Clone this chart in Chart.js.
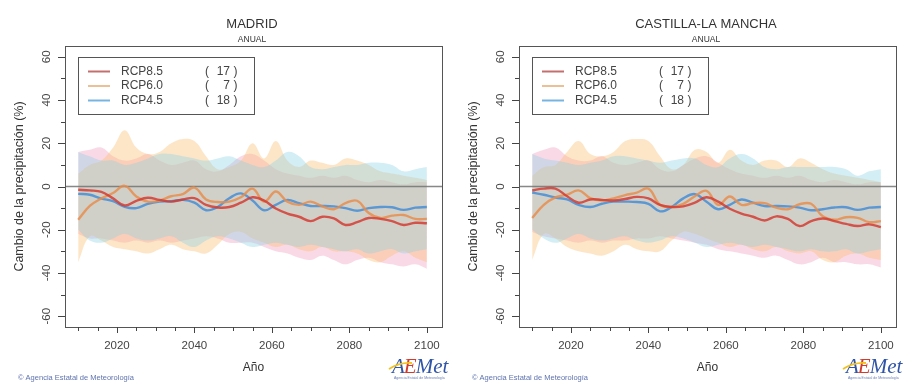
<!DOCTYPE html>
<html>
<head>
<meta charset="utf-8">
<script src="https://cdn.jsdelivr.net/npm/chart.js@4"></script>
<style>
  html, body { margin: 0; padding: 0; background: #fff; }
  #wrap { position: relative; width: 904px; height: 382px; overflow: hidden; }
  .panel { position: absolute; top: 0; height: 382px; }
</style>
</head>
<body>
<div id="wrap">
  <div class="panel" style="left:0;width:454px"><canvas id="c-madrid"></canvas></div>
  <div class="panel" style="left:454px;width:450px"><canvas id="c-clm"></canvas></div>
</div>
<script>
// Cambio de la precipitación anual (%) - proyecciones RCP, AEMet

const years = [2010, 2013, 2016, 2019, 2022, 2025, 2028, 2031, 2034, 2037, 2040,
  2043, 2046, 2049, 2052, 2055, 2058, 2061, 2064, 2067, 2070, 2073, 2076, 2079,
  2082, 2085, 2088, 2091, 2094, 2097, 2100];

const scenarios = ['RCP8.5', 'RCP6.0', 'RCP4.5'];
const modelCounts = [17, 7, 18];

const yTicks = [-60, -40, -20, 0, 20, 40, 60];
const yMinorTicks = [-50, -30, -10, 10, 30, 50];
const xTicks = [2020, 2040, 2060, 2080, 2100];
const xMinorTicks = [2010, 2015, 2025, 2030, 2035, 2045, 2050, 2055, 2065, 2070, 2075, 2085, 2090, 2095];

// --- MADRID ---
const madridRcp85 = [-1.5, -1.8, -2.5, -5.5, -8.8, -6.6, -5.2, -6.2, -7, -6, -5.4, -8.5, -9.7, -9.5, -7.5, -5, -6.5, -10.2, -12.5, -14, -16, -14, -14.8, -17.8, -16.5, -14.6, -15, -16, -17.8, -16.8, -17];
const madridRcp60 = [-15.4, -9, -5.5, -3, 0.3, -4.6, -7, -6.5, -4.5, -3.5, -0.5, -6, -7.2, -7, -5, -1, -7, -2.3, -7, -8.5, -7, -9.2, -10.5, -7.7, -6.6, -12.3, -14.6, -13.5, -13.2, -15, -15];
const madridRcp45 = [-3.4, -3.8, -5.6, -6.8, -9.4, -10, -8, -7, -6.8, -6.2, -7.5, -11, -9.5, -5.4, -3.2, -6.5, -11, -8.5, -6.2, -7.7, -9, -9, -9.2, -10, -11.2, -10, -9.5, -9.6, -10.8, -9.8, -9.5];
const madridRcp85Hi = [16, 17, 18, 14, 12, 13, 15, 12, 10, 11, 12, 8, 7, 10, 14, 15, 12, 8, 6, 5, 4, 5, 4, 5, 3, 2, 3, 2, 1, 2, 2];
const madridRcp85Lo = [-22, -24, -24, -25, -26, -25, -26, -25, -26, -25, -24, -23, -24, -26, -26, -26, -28, -30, -31, -33, -34, -32, -34, -36, -34, -33, -35, -36, -37, -36, -38];
const madridRcp60Hi = [6, 10, 12, 18, 26, 18, 15, 16, 20, 22, 21, 14, 8, 9, 12, 20, 13, 21, 12, 9, 12, 11, 10, 13, 12, 10, 7, 6, 5, 4, 3];
const madridRcp60Lo = [-35, -23, -25, -28, -29, -30, -31, -29, -27, -29, -30, -31, -27, -22, -21, -24, -26, -28, -27, -29, -30, -28, -30, -30, -31, -34, -35, -32, -30, -33, -35];
const madridRcp45Hi = [16, 14, 12, 12, 10, 11, 13, 15, 15, 14, 13, 12, 13, 14, 12, 10, 9, 12, 16, 14, 9, 8, 9, 10, 10, 11, 11, 10, 7, 8, 9];
const madridRcp45Lo = [-20, -25, -26, -24, -22, -24, -25, -24, -23, -26, -28, -25, -23, -24, -26, -28, -27, -26, -27, -28, -27, -28, -29, -30, -29, -31, -30, -29, -31, -30, -29];

// --- CASTILLA-LA MANCHA ---
const clmRcp85 = [-1.8, -1, -1, -4.5, -7.5, -6, -6.2, -6.5, -5.8, -4.8, -5.5, -8.5, -9.5, -9.2, -7.5, -5, -7, -10.3, -12.5, -14, -15.7, -13.8, -15, -18.3, -16, -14.8, -16, -17.3, -18.3, -17.5, -18.8];
const clmRcp60 = [-14.6, -8.5, -5, -3.8, -1.8, -5.4, -6.5, -5.5, -4, -2.8, -1, -8.5, -9.5, -8, -4.5, -2, -8.5, -4.6, -8.5, -7.7, -7.7, -9.8, -10.5, -8.2, -8, -13.8, -15.4, -14.2, -14.5, -16.5, -16];
const clmRcp45 = [-2.8, -3.8, -5.1, -6, -8.5, -9.5, -8, -7, -7, -7.2, -8, -11.5, -9.5, -5.5, -3.5, -7, -10.5, -8.5, -6, -7.5, -9, -9, -9.2, -9.8, -11, -10.5, -9.7, -9.6, -10.8, -9.8, -9.5];
const clmRcp85Hi = [15, 17, 18, 14, 12, 12, 14, 11, 10, 11, 12, 8, 7, 10, 13, 14, 11, 8, 6, 5, 4, 5, 4, 5, 3, 2, 3, 2, 1, 2, 2];
const clmRcp85Lo = [-21, -23, -24, -25, -26, -25, -26, -25, -25, -24, -24, -23, -24, -25, -26, -27, -29, -30, -31, -32, -33, -32, -34, -36, -35, -33, -35, -35, -36, -36, -37.5];
const clmRcp60Hi = [5, 9, 10, 16, 21, 15, 14, 16, 21, 22, 21, 14, 8, 10, 17, 16, 11, 17, 12, 10, 12, 12, 9, 13, 11, 8, 6, 5, 4, 3, 2];
const clmRcp60Lo = [-34, -22, -24, -28, -30, -31, -32, -30, -27, -29, -30, -30, -25, -21, -22, -24, -26, -28, -27, -29, -30, -28, -30, -31, -30, -34, -35, -32, -31, -33, -34];
const clmRcp45Hi = [15, 13, 12, 11, 10, 11, 12, 14, 14, 13, 12, 11, 12, 13, 13, 10, 9, 13, 15, 13, 9, 8, 9, 9, 9, 9, 9, 8, 5, 7, 8];
const clmRcp45Lo = [-20, -24, -26, -24, -22, -24, -25, -24, -23, -25, -26, -25, -23, -24, -26, -28, -27, -26, -27, -28, -27, -28, -29, -30, -29, -30, -30, -29, -31, -30, -29];

const FONT = '"Liberation Sans", Arial, sans-serif';
const LINE_COLORS = ['rgba(212,56,46,0.82)', 'rgba(233,140,75,0.82)', 'rgba(66,140,214,0.82)'];
const BAND_COLORS = ['rgba(240,150,185,0.36)', 'rgba(250,190,110,0.38)', 'rgba(140,210,228,0.38)'];
const LEGEND_COLORS = ['rgb(196,110,110)', 'rgb(236,192,150)', 'rgb(120,180,225)'];

const pts = arr => arr.map((v, i) => ({ x: years[i], y: v }));

function lineSet(data, color) {
  return { data: pts(data), borderColor: color, borderWidth: 2.4, pointRadius: 0, tension: 0.4, fill: false };
}
function bandSet(data, color, fill) {
  return { data: pts(data), borderColor: 'transparent', borderWidth: 0, backgroundColor: color,
    pointRadius: 0, tension: 0.4, fill: fill };
}

function panelPlugin(title) {
  return {
    id: 'panelDecor',
    beforeDatasetsDraw(chart) {
      const { ctx, chartArea: a, scales: { y } } = chart;
      const y0 = y.getPixelForValue(0);
      ctx.save();
      ctx.strokeStyle = 'rgba(115,115,115,0.85)';
      ctx.lineWidth = 1.6;
      ctx.beginPath(); ctx.moveTo(a.left, y0); ctx.lineTo(a.right, y0); ctx.stroke();
      ctx.restore();
    },
    afterDraw(chart) {
      const { ctx, chartArea: a, scales: { x, y } } = chart;
      ctx.save();
      // box
      ctx.strokeStyle = '#555';
      ctx.lineWidth = 1;
      ctx.strokeRect(a.left + 0.5, a.top + 0.5, a.right - a.left, a.bottom - a.top);

      // y ticks
      ctx.strokeStyle = '#444';
      ctx.beginPath();
      yTicks.forEach(v => { const py = Math.round(y.getPixelForValue(v)) + 0.5; ctx.moveTo(a.left - 7, py); ctx.lineTo(a.left, py); });
      yMinorTicks.forEach(v => { const py = Math.round(y.getPixelForValue(v)) + 0.5; ctx.moveTo(a.left - 4, py); ctx.lineTo(a.left, py); });
      // x ticks
      xTicks.forEach(v => { const px = Math.round(x.getPixelForValue(v)) + 0.5; ctx.moveTo(px, a.bottom); ctx.lineTo(px, a.bottom + 6); });
      xMinorTicks.forEach(v => { const px = Math.round(x.getPixelForValue(v)) + 0.5; ctx.moveTo(px, a.bottom); ctx.lineTo(px, a.bottom + 4); });
      ctx.stroke();

      // tick labels
      ctx.fillStyle = '#444';
      ctx.font = '11.5px ' + FONT;
      ctx.textAlign = 'center';
      ctx.textBaseline = 'middle';
      xTicks.forEach(v => ctx.fillText(String(v), x.getPixelForValue(v), 346));
      yTicks.forEach(v => {
        ctx.save();
        ctx.translate(46.5, y.getPixelForValue(v));
        ctx.rotate(-Math.PI / 2);
        ctx.fillText(String(v), 0, 0);
        ctx.restore();
      });

      // axis titles
      ctx.fillStyle = '#333';
      ctx.font = '12px ' + FONT;
      ctx.fillText('Año', (a.left + a.right) / 2, 368);
      ctx.save();
      ctx.translate(20, (a.top + a.bottom) / 2);
      ctx.rotate(-Math.PI / 2);
      ctx.font = '12.5px ' + FONT;
      ctx.fillText('Cambio de la precipitación (%)', 0, 0);
      ctx.restore();

      // titles
      ctx.font = '13px ' + FONT;
      ctx.fillText(title, 252, 24);
      ctx.font = '8.5px ' + FONT;
      ctx.fillText('ANUAL', 252, 39.5);

      // legend
      ctx.strokeStyle = '#555';
      ctx.strokeRect(78.5, 57.5, 176, 57);
      const rows = [71.5, 86, 100.5];
      ctx.font = '12px ' + FONT;
      scenarios.forEach((s, i) => {
        ctx.strokeStyle = LEGEND_COLORS[i];
        ctx.lineWidth = 2;
        ctx.beginPath(); ctx.moveTo(88, rows[i]); ctx.lineTo(110, rows[i]); ctx.stroke();
        ctx.fillStyle = '#444';
        ctx.textAlign = 'left';
        ctx.fillText(s, 121, rows[i]);
        ctx.fillText('(', 205, rows[i]);
        ctx.textAlign = 'right';
        ctx.fillText(String(modelCounts[i]), 230, rows[i]);
        ctx.textAlign = 'left';
        ctx.fillText(')', 233.5, rows[i]);
      });

      // footer
      ctx.fillStyle = 'rgb(95,115,175)';
      ctx.font = '7.5px ' + FONT;
      ctx.textAlign = 'left';
      ctx.fillText('© Agencia Estatal de Meteorología', 18, 378);

      // logo
      ctx.textBaseline = 'alphabetic';
      ctx.font = 'italic 21px "Liberation Serif", serif';
      let lx = 392;
      [['A', '#2f55a8'], ['E', '#d23a2c'], ['Met', '#2f55a8']].forEach(([t, c]) => {
        ctx.fillStyle = c;
        ctx.fillText(t, lx, 373);
        lx += ctx.measureText(t).width - 1;
      });
      ctx.strokeStyle = '#f2c21b';
      ctx.lineWidth = 1.8;
      ctx.beginPath(); ctx.moveTo(389, 369); ctx.quadraticCurveTo(400, 362, 412, 363); ctx.stroke();
      ctx.fillStyle = '#6a7fb8';
      ctx.font = '3.5px ' + FONT;
      ctx.fillText('Agencia Estatal de Meteorología', 394, 379);
      ctx.restore();
    }
  };
}

function makeChart(id, title, l85, l60, l45, b85h, b85l, b60h, b60l, b45h, b45l, padRight) {
  return new Chart(document.getElementById(id), {
    type: 'line',
    data: {
      // first dataset is painted last: lines on top, pink band at the bottom
      datasets: [
        lineSet(l85, LINE_COLORS[0]),
        lineSet(l60, LINE_COLORS[1]),
        lineSet(l45, LINE_COLORS[2]),
        bandSet(b45h, BAND_COLORS[2], '+1'),
        bandSet(b45l, 'transparent', false),
        bandSet(b60h, BAND_COLORS[1], '+1'),
        bandSet(b60l, 'transparent', false),
        bandSet(b85h, BAND_COLORS[0], '+1'),
        bandSet(b85l, 'transparent', false),
      ],
    },
    options: {
      responsive: true,
      maintainAspectRatio: false,
      animation: false,
      devicePixelRatio: 1,
      layout: { padding: { left: 65, top: 46, right: padRight, bottom: 55 } },
      plugins: {
        legend: { display: false },
        tooltip: { enabled: false },
        filler: { drawTime: 'beforeDatasetsDraw', propagate: false },
      },
      scales: {
        x: { type: 'linear', min: 2006.6, max: 2103.9, display: false },
        y: { type: 'linear', min: -65, max: 65, display: false },
      },
    },
    plugins: [panelPlugin(title)],
  });
}

makeChart('c-madrid', 'MADRID', madridRcp85, madridRcp60, madridRcp45,
  madridRcp85Hi, madridRcp85Lo, madridRcp60Hi, madridRcp60Lo, madridRcp45Hi, madridRcp45Lo, 12);
makeChart('c-clm', 'CASTILLA-LA MANCHA', clmRcp85, clmRcp60, clmRcp45,
  clmRcp85Hi, clmRcp85Lo, clmRcp60Hi, clmRcp60Lo, clmRcp45Hi, clmRcp45Lo, 8);
</script>
</body>
</html>
